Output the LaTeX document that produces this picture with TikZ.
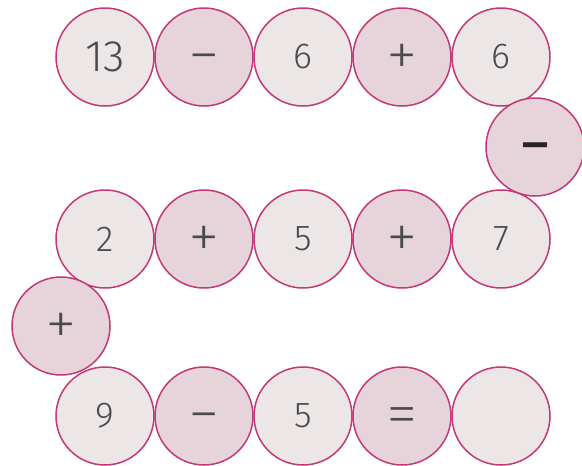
\documentclass[tikz,border=0pt]{standalone}
\usepackage{fontspec}
\setmainfont{Fira Sans}[UprightFont=* Light]
\newfontfamily\thinop{Fira Sans}[UprightFont=* ExtraLight]
\newfontfamily\boldop{Fira Sans}
\newcommand{\opsym}[1]{\smash{\raisebox{-19pt}{#1}}}
\definecolor{rim}{HTML}{C2387A}
\definecolor{numfill}{HTML}{ECE6E6}
\definecolor{opfill}{HTML}{E6D4DA}
\definecolor{ink}{HTML}{4A4A4A}
\tikzset{
  ball/.style={circle, draw=rim, line width=1.5pt, minimum size=98pt, inner sep=0pt, text=ink,
    font=\fontsize{36}{36}\selectfont},
  numball/.style={ball, fill=numfill},
  opball/.style={ball, fill=opfill, font=\fontsize{64}{64}\thinop},
  boldball/.style={opball, text=black!85, font=\fontsize{64}{64}\boldop},
}
\begin{document}
\begin{tikzpicture}[x=1pt,y=-1pt]
\useasboundingbox (0,0) rectangle (582,466);
% row 1
\node[numball, font=\fontsize{44}{44}\selectfont] (a1) at (105,57) {13};
\node[opball] (a2) at (204,57) {\opsym{−}};
\node[numball] (a3) at (303,57) {6};
\node[opball] (a4) at (402,57) {\opsym{+}};
\node[numball] (a5) at (501,57) {6};
% connector
\node[boldball] (m1) at (535,147) {\opsym{−}};
% row 2
\node[numball] (b1) at (105,239) {2};
\node[opball] (b2) at (204,239) {\opsym{+}};
\node[numball] (b3) at (303,239) {5};
\node[opball] (b4) at (402,239) {\opsym{+}};
\node[numball] (b5) at (501,239) {7};
% connector
\node[opball] (p1) at (61,326) {\opsym{+}};
% row 3
\node[numball] (c1) at (105,416) {9};
\node[opball] (c2) at (204,416) {\opsym{−}};
\node[numball] (c3) at (303,416) {5};
\node[opball] (c4) at (402,416) {\opsym{=}};
\node[numball] (c5) at (501,416) {};
\end{tikzpicture}
\end{document}
